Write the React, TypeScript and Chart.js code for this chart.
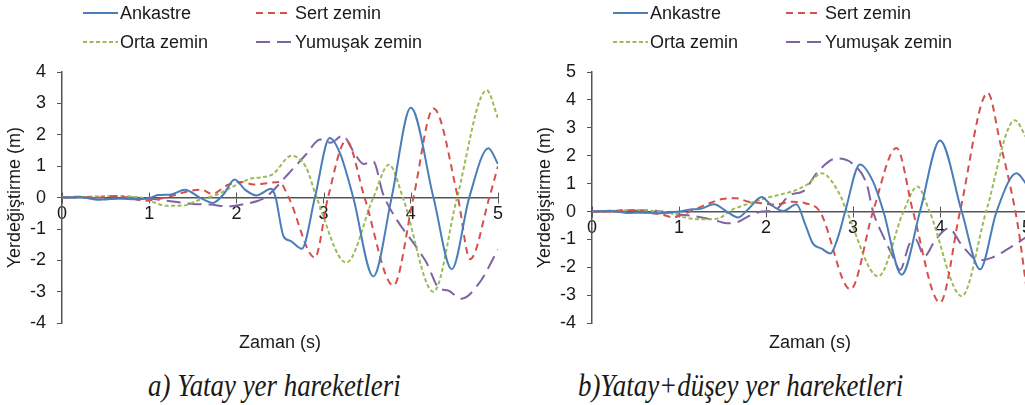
import React, { useEffect, useRef } from 'react';
import { Chart, registerables } from 'chart.js';

Chart.register(...registerables);

// ---------- data ----------
const timeTicks = [0, 1, 2, 3, 4, 5];
const seriesNames = ['Ankastre', 'Sert zemin', 'Orta zemin', 'Yumuşak zemin'];
const captions = ['a) Yatay yer hareketleri', 'b)Yatay+düşey yer hareketleri'];
const xTitle = 'Zaman (s)';
const yTitle = 'Yerdeğiştirme (m)';
const yRangeA = [-4, 4];
const yRangeB = [-4, 5];

// chart a) Yatay yer hareketleri  — [time (s), displacement (m)]
const aAnkastre: [number, number][] = [
  [0, 0], [0.2, 0.02], [0.4, -0.07], [0.6, -0.03], [0.8, -0.05], [1.0, -0.02], [1.1, 0.08], [1.25, 0.1],
  [1.41, 0.25], [1.58, 0.0], [1.73, -0.17], [1.85, 0.1], [1.98, 0.58], [2.1, 0.25], [2.23, 0.07], [2.4, 0.28],
  [2.45, 0.0], [2.54, -1.23], [2.62, -1.38], [2.75, -1.63], [2.9, 0.0], [3.07, 1.9], [3.19, 1.4], [3.34, 0.0],
  [3.57, -2.51], [3.78, 0.0], [4.0, 2.86], [4.26, 0.0], [4.47, -2.28], [4.67, 0.0], [4.89, 1.57], [5.0, 1.07],
];
const aSert: [number, number][] = [
  [0, 0], [0.2, 0.03], [0.4, 0.0], [0.6, 0.05], [0.8, -0.03], [0.95, -0.1], [1.1, -0.05], [1.25, 0.05],
  [1.45, 0.2], [1.6, 0.25], [1.72, 0.12], [1.9, 0.4], [2.05, 0.5], [2.2, 0.42], [2.35, 0.46], [2.49, 0.5],
  [2.6, 0.0], [2.9, -1.91], [3.05, 0.0], [3.26, 1.82], [3.47, 0.0], [3.8, -2.8], [4.03, 0.0], [4.26, 2.84],
  [4.54, 0.0], [4.68, -1.96], [4.9, 0.0], [5.0, 1.0],
];
const aOrta: [number, number][] = [
  [0, 0], [0.3, 0.03], [0.6, 0.05], [0.9, 0.0], [1.05, -0.15], [1.2, -0.26], [1.4, -0.25], [1.55, -0.1],
  [1.78, 0.1], [1.96, 0.35], [2.16, 0.6], [2.3, 0.65], [2.42, 0.75], [2.63, 1.33], [2.8, 0.96], [2.92, 0.0],
  [3.26, -2.07], [3.57, 0.0], [3.75, 1.05], [3.91, 0.0], [4.26, -3.0], [4.53, 0.0], [4.87, 3.42], [5.0, 2.53],
];
const aYumusak: [number, number][] = [
  [0, 0], [0.3, 0.0], [0.5, -0.05], [0.8, 0.0], [1.0, -0.03], [1.2, -0.1], [1.5, -0.2], [1.7, -0.22],
  [1.9, -0.28], [2.1, -0.2], [2.25, -0.1], [2.33, 0.0], [2.61, 0.8], [2.8, 1.38], [2.96, 1.85], [3.08, 1.75],
  [3.22, 1.97], [3.34, 1.48], [3.46, 1.07], [3.57, 1.15], [3.68, 0.13], [3.84, -0.71], [4.03, -1.44],
  [4.18, -2.07], [4.33, -2.9], [4.42, -2.95], [4.58, -3.22], [4.79, -2.7], [5.0, -1.65],
];

// chart b) Yatay+düşey yer hareketleri
const bAnkastre: [number, number][] = [
  [0, 0], [0.2, 0.03], [0.4, -0.05], [0.6, -0.04], [0.8, -0.06], [1.0, 0.0], [1.15, 0.08], [1.25, 0.1],
  [1.4, 0.26], [1.55, 0.0], [1.68, -0.21], [1.8, 0.1], [1.95, 0.52], [2.05, 0.26], [2.2, 0.02], [2.35, 0.26],
  [2.45, -0.45], [2.54, -1.15], [2.64, -1.33], [2.74, -1.5], [2.83, -0.9], [2.91, 0.0], [3.08, 1.69],
  [3.23, 1.08], [3.35, 0.0], [3.56, -2.26], [3.77, 0.0], [4.0, 2.55], [4.25, 0.0], [4.46, -2.07], [4.65, 0.0],
  [4.88, 1.37], [5.0, 0.95],
];
const bSert: [number, number][] = [
  [0, 0], [0.2, 0.0], [0.35, 0.05], [0.5, 0.05], [0.65, -0.05], [0.8, -0.1], [0.93, -0.21], [1.05, -0.1],
  [1.2, 0.1], [1.35, 0.3], [1.5, 0.45], [1.65, 0.48], [1.8, 0.35], [1.95, 0.3], [2.1, 0.25], [2.3, 0.35],
  [2.45, 0.3], [2.62, 0.0], [2.97, -2.79], [3.23, 0.0], [3.5, 2.28], [3.69, 0.0], [4.0, -3.26], [4.23, 0.0],
  [4.55, 4.25], [4.69, 2.49], [4.82, 0.73], [4.9, -0.6], [5.0, -2.9],
];
const bOrta: [number, number][] = [
  [0, 0], [0.3, 0.03], [0.5, 0.06], [0.7, 0.02], [0.9, -0.05], [1.05, -0.2], [1.25, -0.28], [1.45, -0.25],
  [1.6, 0.05], [1.78, 0.26], [2.01, 0.49], [2.15, 0.6], [2.31, 0.73], [2.47, 0.96], [2.64, 1.37], [2.85, 0.6],
  [2.93, 0.0], [3.29, -2.32], [3.58, 0.0], [3.74, 0.9], [3.88, 0.0], [4.25, -3.03], [4.53, 0.0], [4.86, 3.27],
  [5.0, 2.6],
];
const bYumusak: [number, number][] = [
  [0, 0], [0.3, 0.0], [0.6, 0.05], [0.8, 0.0], [0.97, -0.1], [1.15, -0.15], [1.4, -0.3], [1.55, -0.42],
  [1.65, -0.4], [1.78, -0.2], [1.95, 0.0], [2.1, 0.05], [2.28, 0.6], [2.43, 0.73], [2.58, 1.37], [2.81, 1.9],
  [3.0, 1.7], [3.16, 0.96], [3.23, 0.0], [3.35, -0.9], [3.46, -1.62], [3.54, -2.09], [3.65, -1.15],
  [3.72, -1.0], [3.82, -1.6], [3.95, -1.0], [4.1, -0.6], [4.25, -1.2], [4.45, -1.75], [4.6, -1.65],
  [4.8, -1.3], [5.0, -0.9],
];

// ---------- styles ----------
const COLORS = ['#4A7EBB', '#D4504C', '#9BBB59', '#8064A2'];
const DASHES: number[][] = [[], [7, 5], [4, 2.5], [14, 7]];
const AXIS = '#555555';
const TEXT = '#1a1a1a';
const SANS = '"Liberation Sans", Arial, sans-serif';
const SERIF = '"Liberation Serif", "Times New Roman", serif';

const xTickCross = {
  id: 'xTickCross',
  beforeDatasetsDraw(chart: any) {
    const { ctx, scales } = chart;
    const xs = scales.x;
    const y0 = scales.y.getPixelForValue(0);
    ctx.save();
    ctx.strokeStyle = AXIS;
    ctx.lineWidth = 1;
    xs.ticks.forEach((t: any) => {
      const px = Math.round(xs.getPixelForValue(t.value)) + 0.5;
      ctx.beginPath();
      ctx.moveTo(px, y0 - 5);
      ctx.lineTo(px, y0);
      ctx.stroke();
    });
    ctx.restore();
  },
};

function LineChart({ series, yRange, padRight }: { series: [number, number][][]; yRange: number[]; padRight: number }) {
  const ref = useRef<HTMLCanvasElement>(null);
  useEffect(() => {
    const font = { family: SANS, size: 18 };
    const chart = new Chart(ref.current!, {
      type: 'line',
      data: {
        datasets: series.map((s, i) => ({
          label: seriesNames[i],
          data: s.map(([x, y]) => ({ x, y })),
          borderColor: COLORS[i],
          borderWidth: 2,
          borderDash: DASHES[i],
          pointRadius: 0,
          fill: false,
          cubicInterpolationMode: 'monotone' as const,
        })),
      },
      options: {
        responsive: false,
        animation: false,
        layout: { padding: { left: 0, top: 72, right: padRight, bottom: 18 } },
        plugins: { legend: { display: false }, tooltip: { enabled: false } },
        scales: {
          x: {
            type: 'linear',
            min: timeTicks[0],
            max: timeTicks[timeTicks.length - 1],
            position: { y: 0 } as any,
            afterBuildTicks: (s: any) => { s.ticks = timeTicks.map((v) => ({ value: v })); },
            ticks: { font, color: TEXT, padding: 1, maxRotation: 0, autoSkip: false },
            grid: { drawOnChartArea: false, drawTicks: true, tickLength: 5, color: AXIS, lineWidth: 1 },
            border: { display: true, color: AXIS, width: 1.5 },
          },
          y: {
            min: yRange[0],
            max: yRange[1],
            ticks: { stepSize: 1, font, color: TEXT, padding: 11 },
            grid: { drawOnChartArea: false, drawTicks: true, tickLength: 5, color: AXIS, lineWidth: 1 },
            border: { display: true, color: AXIS, width: 1.5 },
            title: { display: true, text: yTitle, font, color: TEXT, padding: { top: 4, bottom: 0 } },
            afterFit: (s: any) => { s.width = 62; },
          },
        },
      },
      plugins: [xTickCross],
    });
    return () => chart.destroy();
  }, []);
  return <canvas ref={ref} width={520} height={345} />;
}

function Legend({ left }: { left: number }) {
  const pos = [
    { x: 83, tx: 120, y: 13 },
    { x: 256, tx: 295, y: 13 },
    { x: 83, tx: 120, y: 42 },
    { x: 256, tx: 295, y: 42 },
  ];
  return (
    <>
      {seriesNames.map((n, i) => (
        <React.Fragment key={n}>
          <svg style={{ position: 'absolute', left: left + pos[i].x, top: pos[i].y - 2 }} width={35} height={4}>
            <line x1={0} y1={2} x2={35} y2={2} stroke={COLORS[i]} strokeWidth={2}
              strokeDasharray={DASHES[i].length ? DASHES[i].join(' ') : undefined} />
          </svg>
          <div style={{ position: 'absolute', left: left + pos[i].tx, top: pos[i].y - 11, font: `18px ${SANS}`,
            color: TEXT, whiteSpace: 'nowrap', lineHeight: '22px' }}>{n}</div>
        </React.Fragment>
      ))}
    </>
  );
}

function CenterText({ cx, cy, text, font, scaleX = 1 }: { cx: number; cy: number; text: string; font: string; scaleX?: number }) {
  return (
    <div style={{ position: 'absolute', left: cx - 300, top: cy - 20, width: 600, height: 40, display: 'flex',
      alignItems: 'center', justifyContent: 'center', font, color: TEXT, whiteSpace: 'nowrap' }}>
      <span style={{ display: 'inline-block', transform: `scaleX(${scaleX})` }}>{text}</span>
    </div>
  );
}

export default function App() {
  return (
    <div style={{ position: 'relative', width: 1025, height: 405, overflow: 'hidden', background: '#fff' }}>
      <style>{'body{margin:0;overflow:hidden;background:#fff}'}</style>
      <div style={{ position: 'absolute', left: 0, top: 0 }}>
        <LineChart series={[aAnkastre, aSert, aOrta, aYumusak]} yRange={yRangeA} padRight={22} />
      </div>
      <div style={{ position: 'absolute', left: 530, top: 0 }}>
        <LineChart series={[bAnkastre, bSert, bOrta, bYumusak]} yRange={yRangeB} padRight={23} />
      </div>
      <Legend left={0} />
      <Legend left={530} />
      <CenterText cx={280} cy={342} text={xTitle} font={`18px ${SANS}`} />
      <CenterText cx={810} cy={342} text={xTitle} font={`18px ${SANS}`} />
      <CenterText cx={274} cy={385} text={captions[0]} font={`italic 32px ${SERIF}`} scaleX={0.84} />
      <CenterText cx={741} cy={385} text={captions[1]} font={`italic 32px ${SERIF}`} scaleX={0.84} />
    </div>
  );
}
